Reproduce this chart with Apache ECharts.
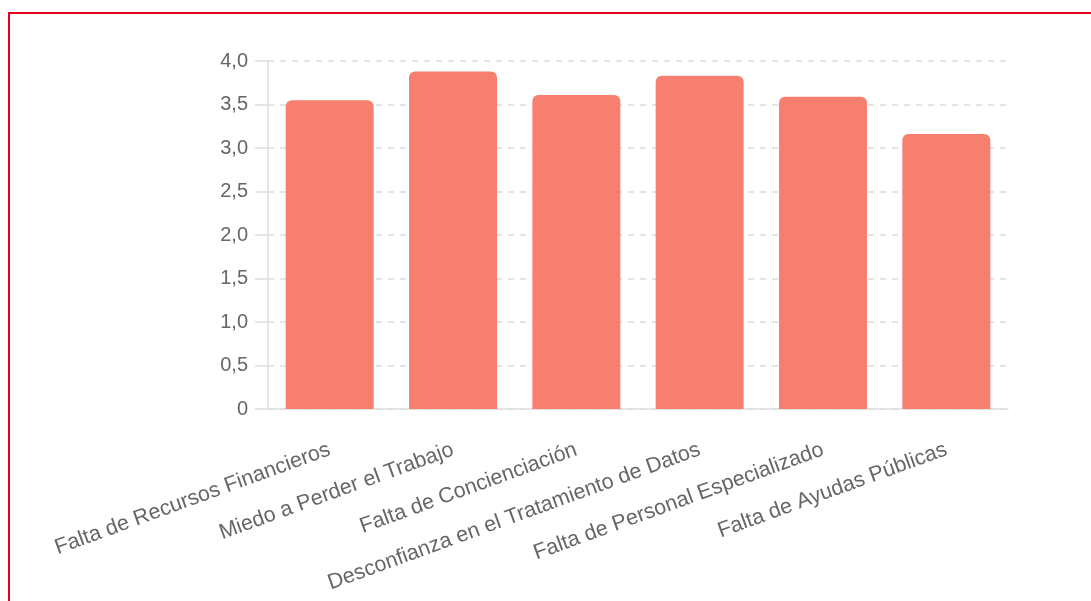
<!DOCTYPE html>
<html>
<head>
<meta charset="utf-8">
<script src="https://cdn.jsdelivr.net/npm/echarts@6/dist/echarts.min.js"></script>
<style>
  html, body { margin: 0; padding: 0; background: #fff; }
  #frame { position: absolute; left: 8px; top: 12px; width: 1200px; height: 700px;
           border-top: 2px solid #E2001A; border-left: 2px solid #E2001A; box-sizing: border-box; }
  #chart { position: absolute; left: 0; top: 0; width: 1091px; height: 601px; }
</style>
</head>
<body>
<div id="frame"></div>
<div id="chart"></div>
<script>
const categories = [
  'Falta de Recursos Financieros',
  'Miedo a Perder el Trabajo',
  'Falta de Concienciación',
  'Desconfianza en el Tratamiento de Datos',
  'Falta de Personal Especializado',
  'Falta de Ayudas Públicas'
];
const values = [3.55, 3.88, 3.61, 3.83, 3.59, 3.16];
const yTicks = { min: 0, max: 4, interval: 0.5 };

const chart = echarts.init(document.getElementById('chart'), null, { renderer: 'canvas' });
const font = '"Liberation Sans", Arial, sans-serif';
chart.setOption({
  animation: false,
  grid: { left: 268, right: 83, top: 61, bottom: 192, containLabel: false },
  xAxis: {
    type: 'category',
    data: categories,
    axisLine: { show: true, lineStyle: { color: '#dedede', width: 1.5 } },
    axisTick: { show: false },
    axisLabel: {
      interval: 0, rotate: 20, margin: 40,
      color: '#666', fontSize: 21.5, fontFamily: font
    }
  },
  yAxis: {
    type: 'value',
    min: yTicks.min, max: yTicks.max, interval: yTicks.interval,
    axisLine: { show: true, lineStyle: { color: '#dedede', width: 1.5 } },
    axisTick: { show: true, length: 13, lineStyle: { color: '#dedede', width: 1.5 } },
    splitLine: { show: true, lineStyle: { color: '#dcdcdc', type: [6, 6], width: 1.5 } },
    axisLabel: {
      margin: 20, color: '#666', fontSize: 20, fontFamily: font,
      formatter: v => v === 0 ? '0' : v.toFixed(1).replace('.', ',')
    }
  },
  series: [{
    type: 'bar',
    data: values,
    barWidth: 88,
    itemStyle: { color: '#F77F6F', borderRadius: [6, 6, 0, 0] }
  }]
});
</script>
</body>
</html>
